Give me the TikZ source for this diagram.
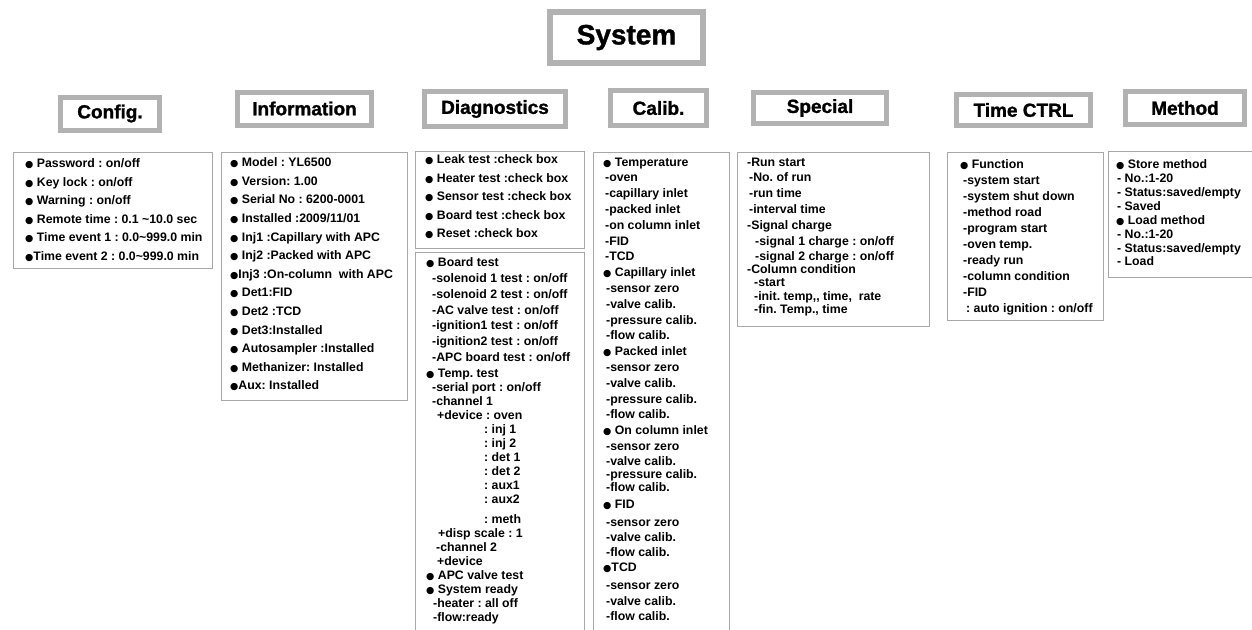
\documentclass[tikz,border=0pt]{standalone}
\usepackage{fontspec}
\setmainfont{Liberation Sans}
\newfontfamily\dotfont{DejaVu Sans}
\newfontface\headfont{Liberation Sans Bold}[FakeBold=1.3]
\usepackage{xcolor}
\usepackage{tikz}

\definecolor{framegray}{RGB}{178,178,178}
\definecolor{boxgray}{RGB}{168,168,168}
\newcommand{\blt}{{\dotfont\fontsize{9.5}{9}\selectfont ●}}
\frenchspacing

\begin{document}
\begin{tikzpicture}[
x=1pt, y=-1pt,
every node/.style={font=\bfseries},
titlebox/.style={draw=framegray,line width=6pt,inner sep=0pt,font=\headfont\fontsize{28}{28}\selectfont},
headbox/.style={draw=framegray,line width=5pt,inner sep=0pt,minimum height=33pt,font=\headfont\fontsize{19}{19}\selectfont},
listbox/.style={draw=boxgray,line width=1.3pt,anchor=north west,inner sep=0pt},
items/.style={anchor=north west,inner sep=0pt,align=left,font=\bfseries\fontsize{12.3}{#1}\selectfont}
]
\useasboundingbox (0,0) rectangle (1252,629);

% Top
\node[titlebox,minimum width=153pt,minimum height=51pt] (system) at (626.5,37.5) {System};

% Headers
\node[headbox,minimum width=99pt] (config) at (110,113.5) {Config.};
\node[headbox,minimum width=134pt] (info) at (304.5,108.5) {Information};
\node[headbox,minimum width=141pt,minimum height=35pt] (diag) at (495,109) {Diagnostics};
\node[headbox,minimum width=96pt,minimum height=35pt] (calib) at (658.5,108) {Calib.};
\node[headbox,minimum width=133pt,minimum height=31pt] (special) at (820,108) {Special};
\node[headbox,minimum width=134pt,minimum height=31pt] (timectrl) at (1023.5,110) {Time CTRL};
\node[headbox,minimum width=119pt] (method) at (1185,108) {Method};

% List boxes
\node[listbox,minimum width=199pt,minimum height=116pt] (configbox) at (13,152) {};
\node[listbox,minimum width=186pt,minimum height=248pt] (infobox) at (221,152) {};
\node[listbox,minimum width=169pt,minimum height=97pt] (diagbox) at (415,151) {};
\node[listbox,minimum width=169pt,minimum height=390pt] (boardbox) at (415,252) {};
\node[listbox,minimum width=136pt,minimum height=490pt] (calibbox) at (593,152) {};
\node[listbox,minimum width=192pt,minimum height=174pt] (specialbox) at (737,152) {};
\node[listbox,minimum width=156pt,minimum height=168pt] (timebox) at (947,152) {};
\node[listbox,minimum width=160pt,minimum height=126pt] (methodbox) at (1108,151) {};

% Config.
\node[items=18.5] (configtxt) at (25,158.5) {%
\blt\ Password : on/off\\
\blt\ Key lock : on/off\\
\blt\ Warning : on/off\\
\blt\ Remote time : 0.1 \textasciitilde 10.0 sec\\
\blt\ Time event 1 : 0.0\textasciitilde 999.0 min\\
\blt Time event 2 : 0.0\textasciitilde 999.0 min};

% Information
\node[items=18.6] (infotxt) at (230,157.5) {%
\blt\ Model : YL6500\\
\blt\ Version: 1.00\\
\blt\ Serial No : 6200-0001\\
\blt\ Installed :2009/11/01\\
\blt\ Inj1 :Capillary with APC\\
\blt\ Inj2 :Packed with APC\\
\blt Inj3 :On-column\ \ with APC\\
\blt\ Det1:FID\\
\blt\ Det2 :TCD\\
\blt\ Det3:Installed\\
\blt\ Autosampler :Installed\\
\blt\ Methanizer: Installed\\
\blt Aux: Installed};

% Diagnostics
\node[items=18.5] (diagtxt) at (425,154.5) {%
\blt\ Leak test :check box\\
\blt\ Heater test :check box\\
\blt\ Sensor test :check box\\
\blt\ Board test :check box\\
\blt\ Reset :check box};

\node[items=14] (boardtxt) at (426,257.5) {%
\blt\ Board test\\[1.8pt]
\hspace*{6pt}-solenoid 1 test : on/off\\[1.8pt]
\hspace*{6pt}-solenoid 2 test : on/off\\[1.8pt]
\hspace*{6pt}-AC valve test : on/off\\[1.8pt]
\hspace*{6pt}-ignition1 test : on/off\\[1.8pt]
\hspace*{6pt}-ignition2 test : on/off\\[1.8pt]
\hspace*{6pt}-APC board test : on/off\\[1.8pt]
\blt\ Temp. test\\
\hspace*{6pt}-serial port : on/off\\
\hspace*{6pt}-channel 1\\
\hspace*{11pt}+device : oven\\
\hspace*{58pt}: inj 1\\
\hspace*{58pt}: inj 2\\
\hspace*{58pt}: det 1\\
\hspace*{58pt}: det 2\\
\hspace*{58pt}: aux1\\
\hspace*{58pt}: aux2\\[6pt]
\hspace*{58pt}: meth\\
\hspace*{12pt}+disp scale : 1\\
\hspace*{10pt}-channel 2\\
\hspace*{11pt}+device\\
\blt\ APC valve test\\
\blt\ System ready\\
\hspace*{7pt}-heater : all off\\
\hspace*{7pt}-flow:ready};

% Calib.
\node[items=15.8] (calibtxt) at (603,157.5) {%
\blt\ Temperature\\
\hspace*{2pt}-oven\\
\hspace*{2pt}-capillary inlet\\
\hspace*{2pt}-packed inlet\\
\hspace*{2pt}-on column inlet\\
\hspace*{2pt}-FID\\
\hspace*{2pt}-TCD\\
\blt\ Capillary inlet\\
\hspace*{3pt}-sensor zero\\
\hspace*{3pt}-valve calib.\\
\hspace*{3pt}-pressure calib.\\
\hspace*{3pt}-flow calib.\\
\blt\ Packed inlet\\
\hspace*{3pt}-sensor zero\\
\hspace*{3pt}-valve calib.\\
\hspace*{3pt}-pressure calib.\\
\hspace*{3pt}-flow calib.\\
\blt\ On column inlet\\
\hspace*{3pt}-sensor zero\\[-1.2pt]
\hspace*{3pt}-valve calib.\\[-2.8pt]
\hspace*{3pt}-pressure calib.\\[-2.8pt]
\hspace*{3pt}-flow calib.\\[1.2pt]
\blt\ FID\\[2.2pt]
\hspace*{3pt}-sensor zero\\[-0.8pt]
\hspace*{3pt}-valve calib.\\[-0.8pt]
\hspace*{3pt}-flow calib.\\
\blt TCD\\[2.2pt]
\hspace*{3pt}-sensor zero\\
\hspace*{3pt}-valve calib.\\[-0.8pt]
\hspace*{3pt}-flow calib.};

% Special
\node[items=15.8] (specialtxt) at (747,157.5) {%
-Run start\\
\hspace*{2pt}-No. of run\\
\hspace*{2pt}-run time\\
\hspace*{2pt}-interval time\\
-Signal charge\\
\hspace*{8pt}-signal 1 charge : on/off\\
\hspace*{8pt}-signal 2 charge : on/off\\[-2.8pt]
-Column condition\\[-2.8pt]
\hspace*{7pt}-start\\[-2.3pt]
\hspace*{7pt}-init. temp,{},\ time,\ \ rate\\[-2.3pt]
\hspace*{7pt}-fin. Temp., time};

% Time CTRL
\node[items=16] (timetxt) at (960,159.5) {%
\blt\ Function\\
\hspace*{3pt}-system start\\
\hspace*{3pt}-system shut down\\
\hspace*{3pt}-method road\\
\hspace*{3pt}-program start\\
\hspace*{3pt}-oven temp.\\
\hspace*{3pt}-ready run\\
\hspace*{3pt}-column condition\\
\hspace*{3pt}-FID\\
\hspace*{6pt}: auto ignition : on/off};

% Method
\node[items=13.9] (methodtxt) at (1116,159.5) {%
\blt\ Store method\\
\hspace*{1pt}- No.:1-20\\
\hspace*{1pt}- Status:saved/empty\\
\hspace*{1pt}- Saved\\
\blt\ Load method\\
\hspace*{1pt}- No.:1-20\\
\hspace*{1pt}- Status:saved/empty\\
\hspace*{1pt}- Load};

\end{tikzpicture}
\end{document}
